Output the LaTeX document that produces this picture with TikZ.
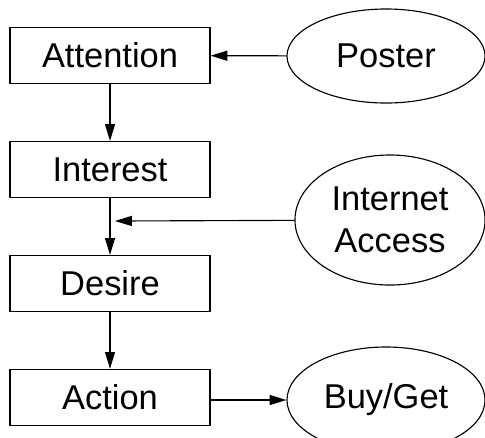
\documentclass[tikz,border=0pt]{standalone}
\usepackage{fontspec}
\setmainfont{Liberation Sans}
\usepackage{tikz}
\usetikzlibrary{shapes.geometric}
\usetikzlibrary{positioning}
\usetikzlibrary{arrows.meta}

\begin{document}
\begin{tikzpicture}[
  x=0.025cm, y=-0.025cm,
  line width=0.8pt,
  box/.style={draw, rectangle, minimum width=5cm, minimum height=1.4cm},
  oval/.style={draw, ellipse, inner sep=0pt, minimum width=4.95cm, minimum height=2.35cm},
  >={Triangle[length=0.42cm,width=0.25cm]},
  node distance=1.42cm,
  font=\fontsize{24.5}{30}\selectfont]
  \useasboundingbox (0,0) rectangle (485,437);
  % AIDA steps
  \node[box] (att) at (110,55.5) {Attention};
  \node[box, below=of att] (int) {Interest};
  \node[box, below=of int] (des) {Desire};
  \node[box, below=of des] (act) {Action};
  % outside influences
  \node[oval] (poster) at (386,56) {Poster};
  \node[oval, minimum width=4.75cm, minimum height=3.25cm, align=center] (acc) at (390,220) {Internet\\Access};
  \node[oval, minimum height=2.65cm] (buy) at (386,400) {Buy/Get};
  \coordinate (join) at (115,221);
  \draw[->] (poster) -- (att);
  \draw[->] (att) -- (int);
  \draw[->] (int) -- (des);
  \draw[->] (des) -- (act);
  \draw[->] (acc) -- (join);
  \draw[->] (act.east |- buy.west) -- (buy.west);
\end{tikzpicture}
\end{document}
